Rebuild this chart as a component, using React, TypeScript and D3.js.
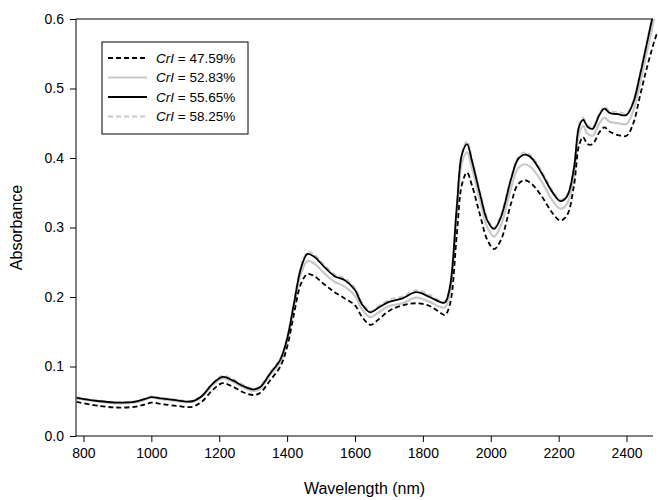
import { useRef, useEffect, RefObject } from 'react';
import * as d3 from 'd3';

// wavelength grid (nm)
const wavelengths: number[] = [
  780, 850, 900, 950, 980, 1000, 1030, 1080, 1120, 1150, 1180, 1210, 1240, 1270,
  1300, 1320, 1350, 1380, 1400, 1420, 1440, 1460, 1480, 1510, 1540, 1570, 1600,
  1620, 1645, 1670, 1700, 1740, 1780, 1820, 1850, 1865, 1880, 1900, 1915, 1930,
  1945, 1970, 1990, 2010, 2030, 2060, 2080, 2100, 2120, 2150, 2180, 2205, 2225,
  2245, 2260, 2272, 2285, 2300, 2320, 2335, 2350, 2375, 2400, 2420, 2440, 2460,
  2480, 2490,
];

// CrI = 47.59%
const cri4759: number[] = [
  0.049, 0.043, 0.041, 0.042, 0.045, 0.048, 0.046, 0.043, 0.042, 0.05, 0.066, 0.076,
  0.071, 0.063, 0.059, 0.062, 0.08, 0.1, 0.128, 0.175, 0.218, 0.233, 0.23, 0.218,
  0.207, 0.198, 0.188, 0.172, 0.16, 0.168, 0.18, 0.188, 0.191, 0.187, 0.178, 0.174,
  0.19, 0.29, 0.362, 0.379, 0.36, 0.315, 0.282, 0.269, 0.282, 0.335, 0.362, 0.368,
  0.363, 0.345, 0.322, 0.31, 0.318, 0.36, 0.418, 0.43, 0.42, 0.42, 0.437, 0.444,
  0.438, 0.433, 0.432, 0.45, 0.49, 0.53, 0.565, 0.58,
];

// CrI = 52.83%
const cri5283: number[] = [
  0.054, 0.049, 0.047, 0.048, 0.052, 0.055, 0.053, 0.05, 0.049, 0.057, 0.073, 0.083,
  0.078, 0.07, 0.065, 0.068, 0.088, 0.107, 0.136, 0.185, 0.232, 0.252, 0.248, 0.234,
  0.222, 0.215, 0.202, 0.183, 0.171, 0.178, 0.187, 0.191, 0.199, 0.193, 0.186, 0.185,
  0.206, 0.318, 0.393, 0.408, 0.385, 0.335, 0.3, 0.287, 0.303, 0.357, 0.385, 0.391,
  0.386, 0.366, 0.34, 0.327, 0.334, 0.374, 0.435, 0.446, 0.435, 0.432, 0.45, 0.458,
  0.452, 0.45, 0.449, 0.468, 0.508, 0.552, 0.597, 0.618,
];

// CrI = 55.65%
const cri5565: number[] = [
  0.055, 0.05, 0.048, 0.049, 0.053, 0.056, 0.054, 0.051, 0.05, 0.058, 0.075, 0.085,
  0.08, 0.072, 0.067, 0.07, 0.09, 0.11, 0.14, 0.19, 0.24, 0.262, 0.258, 0.243,
  0.23, 0.224, 0.21, 0.19, 0.178, 0.185, 0.193, 0.198, 0.207, 0.2, 0.193, 0.192,
  0.215, 0.33, 0.405, 0.42, 0.395, 0.345, 0.31, 0.298, 0.315, 0.37, 0.398, 0.405,
  0.4, 0.378, 0.352, 0.338, 0.345, 0.385, 0.445, 0.455, 0.445, 0.442, 0.462, 0.471,
  0.465, 0.463, 0.462, 0.48, 0.52, 0.565, 0.61, 0.63,
];

// CrI = 58.25%
const cri5825: number[] = [
  0.056, 0.051, 0.049, 0.05, 0.054, 0.057, 0.055, 0.052, 0.051, 0.059, 0.076, 0.087,
  0.082, 0.074, 0.068, 0.071, 0.092, 0.112, 0.142, 0.193, 0.243, 0.265, 0.261, 0.246,
  0.233, 0.227, 0.213, 0.193, 0.18, 0.187, 0.196, 0.201, 0.21, 0.203, 0.195, 0.194,
  0.218, 0.334, 0.409, 0.424, 0.399, 0.348, 0.313, 0.3, 0.318, 0.373, 0.401, 0.408,
  0.403, 0.381, 0.355, 0.34, 0.348, 0.388, 0.448, 0.458, 0.448, 0.445, 0.465, 0.474,
  0.468, 0.466, 0.465, 0.483, 0.523, 0.568, 0.613, 0.633,
];

const legendLabels: string[] = ['47.59%', '52.83%', '55.65%', '58.25%'];
const xTicks: number[] = [800, 1000, 1200, 1400, 1600, 1800, 2000, 2200, 2400];
const yTicks: number[] = [0, 0.1, 0.2, 0.3, 0.4, 0.5, 0.6];

const seriesStyle = [
  { values: cri4759, color: '#000', width: 1.8, dash: '5,3' },
  { values: cri5283, color: '#c8c8c8', width: 2.2, dash: null },
  { values: cri5565, color: '#000', width: 1.8, dash: null },
  { values: cri5825, color: '#c8c8c8', width: 1.8, dash: '5,3' },
];

const Chart = () => {
  const svgRef: RefObject<SVGSVGElement> = useRef(null);

  useEffect(() => {
    const width = 658;
    const height = 500;
    const left = 76, right = 653, top = 19, bottom = 436;

    const svg = d3.select(svgRef.current);
    svg.selectAll('*').remove();
    svg.attr('width', width).attr('height', height)
      .style('font-family', 'Arial, "Liberation Sans", sans-serif');

    const x = d3.scaleLinear().domain([778, 2478]).range([left, right]);
    const y = d3.scaleLinear().domain([0, 0.6]).range([bottom, top]);

    svg.append('defs').append('clipPath').attr('id', 'plotclip')
      .append('rect').attr('x', left).attr('y', top)
      .attr('width', width - left).attr('height', bottom - top);

    const line = d3.line<number>()
      .x((_, i) => x(wavelengths[i]))
      .y((d) => y(d))
      .curve(d3.curveCatmullRom.alpha(0.5));

    const g = svg.append('g').attr('clip-path', 'url(#plotclip)');
    // draw light lines first so black lines sit on top
    [1, 3, 2, 0].forEach((k) => {
      const s = seriesStyle[k];
      g.append('path')
        .attr('d', line(s.values))
        .attr('fill', 'none')
        .attr('stroke', s.color)
        .attr('stroke-width', s.width)
        .attr('stroke-dasharray', s.dash)
        .attr('stroke-linejoin', 'round');
    });

    // frame: left, bottom, top
    svg.append('line').attr('x1', left).attr('x2', left).attr('y1', top).attr('y2', bottom)
      .attr('stroke', '#000');
    svg.append('line').attr('x1', left).attr('x2', right).attr('y1', bottom).attr('y2', bottom)
      .attr('stroke', '#000');
    svg.append('line').attr('x1', left).attr('x2', right).attr('y1', top).attr('y2', top)
      .attr('stroke', '#000');

    const xAxis = svg.append('g').attr('transform', `translate(0,${bottom})`)
      .call(d3.axisBottom(x).tickValues(xTicks).tickSize(6).tickPadding(6)
        .tickFormat(d3.format('d')));
    xAxis.select('.domain').remove();
    xAxis.selectAll('text').attr('font-size', 14).attr('fill', '#000')
      .style('font-family', 'Arial, "Liberation Sans", sans-serif');

    const yAxis = svg.append('g').attr('transform', `translate(${left},0)`)
      .call(d3.axisLeft(y).tickValues(yTicks).tickSize(6).tickPadding(6)
        .tickFormat(d3.format('.1f')));
    yAxis.select('.domain').remove();
    yAxis.selectAll('text').attr('font-size', 14).attr('fill', '#000')
      .style('font-family', 'Arial, "Liberation Sans", sans-serif');

    svg.append('text').attr('x', (left + right) / 2).attr('y', 494)
      .attr('text-anchor', 'middle').attr('font-size', 16).text('Wavelength (nm)');
    svg.append('text')
      .attr('transform', `translate(22,${(top + bottom) / 2}) rotate(-90)`)
      .attr('text-anchor', 'middle').attr('font-size', 16).text('Absorbance');

    // legend
    const lg = svg.append('g');
    lg.append('rect').attr('x', 102).attr('y', 42).attr('width', 146).attr('height', 92)
      .attr('fill', '#fff').attr('stroke', '#000');
    legendLabels.forEach((lab, i) => {
      const s = seriesStyle[i];
      const yy = 58 + i * 19.5;
      lg.append('line').attr('x1', 108).attr('x2', 147).attr('y1', yy).attr('y2', yy)
        .attr('stroke', s.color).attr('stroke-width', s.width).attr('stroke-dasharray', s.dash);
      const t = lg.append('text').attr('x', 156).attr('y', yy + 4.5).attr('font-size', 13.5);
      t.append('tspan').attr('font-style', 'italic').text('CrI');
      t.append('tspan').text(` = ${lab}`);
    });
  }, []);

  return <svg ref={svgRef}></svg>;
};

export default function App() {
  return (
    <div style={{ position: 'absolute', left: 0, top: 0 }}>
      <Chart />
    </div>
  );
}
